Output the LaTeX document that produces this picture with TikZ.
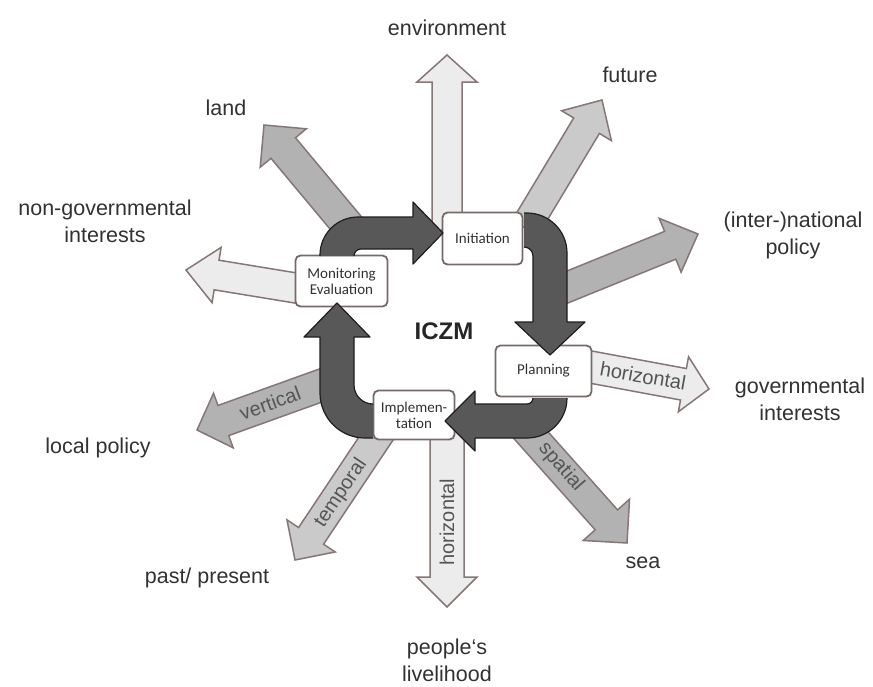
\documentclass[tikz,border=0pt]{standalone}
\usepackage{fontspec}
\setmainfont{Liberation Sans}
\newfontfamily\boxfont{Carlito}
\usetikzlibrary{calc}
\definecolor{outl}{RGB}{135,118,118}
\definecolor{fillA}{RGB}{236,236,236}
\definecolor{fillB}{RGB}{202,202,202}
\definecolor{fillC}{RGB}{178,178,178}
\definecolor{darkfill}{RGB}{88,88,88}
\definecolor{darkline}{RGB}{30,30,30}
\definecolor{txt}{RGB}{50,50,50}
\definecolor{atxt}{RGB}{85,85,85}
\definecolor{boxline}{RGB}{120,105,105}
% #1 start, #2 tip, #3 shaft half width, #4 head half width, #5 head length, #6 fill
\newcommand\radarrow[6]{%
  \coordinate (rab) at ($(#2)!#5!(#1)$);
  \draw[radial, fill=#6]
    ($(#1)!#3!90:(#2)$) -- ($(rab)!#3!90:(#2)$) -- ($(rab)!#4!90:(#2)$) -- (#2)
    -- ($(rab)!#4!-90:(#2)$) -- ($(rab)!#3!-90:(#2)$) -- ($(#1)!#3!-90:(#2)$) -- cycle;}
\begin{document}
\begin{tikzpicture}[x=1pt,y=-1pt,
  radial/.style={draw=outl, line width=1.5pt, line join=miter},
  darkarrow/.style={draw=darkline, fill=darkfill, line width=1.2pt, line join=round},
  stepbox/.style={draw=boxline, fill=white, rounded corners=5pt, line width=1.8pt,
    font=\boxfont\fontsize{15}{16}\selectfont, text=txt, align=center, inner sep=0pt},
  lbl/.style={text=txt, font=\fontsize{21.5}{27}\selectfont, align=center, inner sep=0pt},
  albl/.style={text=atxt, font=\fontsize{20}{22}\selectfont, inner sep=0pt}]
\useasboundingbox (0,0) rectangle (873,686);
\fill[white] (0,0) rectangle (873,686);

% radial arrow end points
\coordinate (envS) at (447,230); \coordinate (envT) at (447,55);
\coordinate (futS) at (525,228); \coordinate (futT) at (602,100);
\coordinate (intS) at (560,290); \coordinate (intT) at (698,234);
\coordinate (govS) at (585,366); \coordinate (govT) at (709,389);
\coordinate (seaS) at (521,424); \coordinate (seaT) at (627,543);
\coordinate (pplS) at (447,430); \coordinate (pplT) at (447,607);
\coordinate (pstS) at (385,425); \coordinate (pstT) at (295,560);
\coordinate (locS) at (336,380); \coordinate (locT) at (197,430);
\coordinate (ngoS) at (308,290); \coordinate (ngoT) at (186,270);
\coordinate (lndS) at (350,228); \coordinate (lndT) at (264,125);

\radarrow{envS}{envT}{15pt}{30pt}{27pt}{fillA}
\radarrow{futS}{futT}{15pt}{29pt}{30pt}{fillB}
\radarrow{intS}{intT}{15pt}{29pt}{30pt}{fillC}
\radarrow{govS}{govT}{16pt}{28pt}{26pt}{fillA}
\radarrow{seaS}{seaT}{15pt}{31pt}{31pt}{fillC}
\radarrow{pplS}{pplT}{17pt}{30pt}{30pt}{fillA}
\radarrow{pstS}{pstT}{15pt}{29pt}{29pt}{fillB}
\radarrow{locS}{locT}{16pt}{29pt}{28pt}{fillC}
\radarrow{ngoS}{ngoT}{15pt}{28pt}{31pt}{fillA}
\radarrow{lndS}{lndT}{16pt}{30pt}{30pt}{fillC}

% labels inside the arrows
\node[albl, rotate=-10] (hz1) at (643,376) {horizontal};
\node[albl, rotate=-49] (spt) at (561,467) {spatial};
\node[albl, rotate=90] (hz2) at (447,522) {horizontal};
\node[albl, rotate=56] (tmp) at (341,493) {temporal};
\node[albl, rotate=20] (vrt) at (270,403) {vertical};

% process boxes
\node[stepbox, minimum width=92pt, minimum height=51pt] (mon) at (341.5,281) {Monitoring\\Evaluation};
\node[stepbox, minimum width=80pt, minimum height=52pt] (ini) at (482.5,238.5) {Initiation};
\node[stepbox, minimum width=96pt, minimum height=51pt] (pla) at (543.5,371) {Planning};
\node[stepbox, minimum width=81pt, minimum height=49pt] (imp) at (414,415) {Implemen-\\tation};

% cycle arrows
\draw[darkarrow] (320,256) -- (320,255) arc[start angle=180,end angle=270,radius=38]
  -- (413,217) -- (413,202) -- (443,233) -- (413,264) -- (413,249) -- (361,249)
  arc[start angle=270,end angle=180,radius=7] -- (354,256);
\draw[darkarrow] (524,213) -- (527,213) arc[start angle=270,end angle=360,radius=40]
  -- (567,322) -- (585,322) -- (550,355) -- (515,322) -- (533,322) -- (533,256)
  arc[start angle=0,end angle=-90,radius=9] -- (524,247);
\draw[darkarrow] (567,398) arc[start angle=0,end angle=90,radius=40]
  -- (475,438) -- (475,451) -- (445,421) -- (475,391) -- (475,404) -- (527,404)
  arc[start angle=90,end angle=0,radius=6];
\draw[darkarrow] (373,438) -- (365,438) arc[start angle=90,end angle=180,radius=45]
  -- (320,337) -- (304,337) -- (337,303) -- (370,337) -- (354,337) -- (354,385)
  arc[start angle=180,end angle=90,radius=19];

\node[font=\bfseries\fontsize{24}{28}\selectfont, text=black!85, inner sep=0pt] (iczm) at (444,331) {ICZM};

% outer labels
\node[lbl] (env) at (447,28) {environment};
\node[lbl] (fut) at (630,75) {future};
\node[lbl] (land) at (226,108) {land};
\node[lbl] (ngo) at (105,221) {non-governmental\\interests};
\node[lbl] (intl) at (793,235) {(inter-)national\\policy};
\node[lbl] (gov) at (800,399) {governmental\\interests};
\node[lbl] (sea) at (643,563) {sea};
\node[lbl] (ppl) at (447,660) {people‘s\\livelihood};
\node[lbl] (past) at (207,578) {past/ present};
\node[lbl] (loc) at (98,448) {local policy};
\end{tikzpicture}
\end{document}
